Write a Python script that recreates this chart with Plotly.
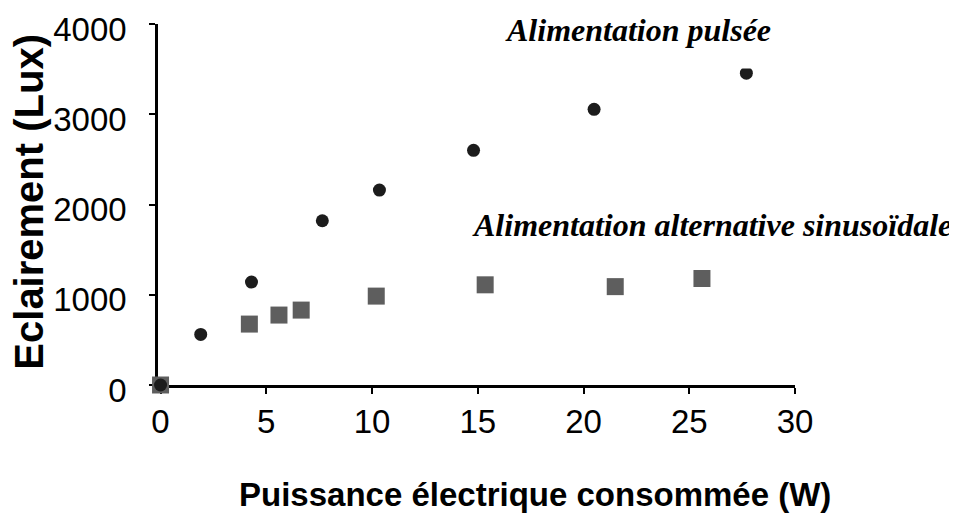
import plotly.graph_objects as go

# Data
pulse_x = [0, 1.9, 4.3, 7.65, 10.35, 14.8, 20.5, 27.7]
pulse_y = [0, 560, 1140, 1820, 2160, 2600, 3055, 3455]

sine_x = [0, 4.2, 5.6, 6.65, 10.2, 15.35, 21.5, 25.6]
sine_y = [0, 675, 775, 830, 985, 1110, 1090, 1180]

x_ticks = [0, 5, 10, 15, 20, 25, 30]
y_ticks = [0, 1000, 2000, 3000, 4000]

label_pulse = "Alimentation pulsée"
label_sine = "Alimentation alternative sinusoïdale"
x_title = "Puissance électrique consommée (W)"
y_title = "Eclairement (Lux)"

fig = go.Figure()
fig.add_trace(go.Scatter(
    x=sine_x, y=sine_y, mode="markers", cliponaxis=False,
    marker=dict(symbol="square", size=17, color="#5e5e5e", line=dict(width=0)),
    name=label_sine, showlegend=False))
fig.add_trace(go.Scatter(
    x=pulse_x, y=pulse_y, mode="markers", cliponaxis=False,
    marker=dict(symbol="circle", size=13, color="#1c1c1c", line=dict(width=0)),
    name=label_pulse, showlegend=False))

axis_font = dict(family="Liberation Sans, Arial, sans-serif", size=33, color="black")

# the page body adds an 8px margin, so the figure is 949x512 and offsets are compensated
fig.update_layout(
    width=949, height=512,
    margin=dict(l=150, r=162, t=16, b=135),
    paper_bgcolor="white", plot_bgcolor="white",
    xaxis=dict(range=[-0.12, 30], tickvals=x_ticks, showgrid=False, zeroline=False,
               showline=True, linecolor="black", linewidth=2.5,
               ticks="outside", ticklen=6, tickwidth=2, tickcolor="black",
               tickfont=axis_font, ticklabelstandoff=0, automargin=False,
               layer="below traces"),
    yaxis=dict(range=[0, 4000], tickvals=y_ticks, showgrid=False, zeroline=False,
               showline=True, linecolor="black", linewidth=2.5,
               ticks="outside", ticklen=6, tickwidth=2, tickcolor="black",
               tickfont=axis_font, ticklabelstandoff=16, ticklabelshift=5,
               ticklabeloverflow="allow", automargin=False, layer="below traces"),
    annotations=[
        dict(text=label_pulse, x=22.58, y=3939, xref="x", yref="y",
             xanchor="center", yanchor="middle", showarrow=False,
             font=dict(family="Liberation Serif, Times New Roman, serif", size=32,
                       color="black", weight="bold", style="italic"),
             bgcolor="white", borderpad=20),
        dict(text=label_sine, x=26.07, y=1773, xref="x", yref="y",
             xanchor="center", yanchor="middle", showarrow=False,
             font=dict(family="Liberation Serif, Times New Roman, serif", size=32,
                       color="black", weight="bold", style="italic"),
             bgcolor="white", borderpad=8),
        dict(text=y_title, x=-0.203, y=0.507, xref="paper", yref="paper",
             xanchor="center", yanchor="middle", textangle=-90, showarrow=False,
             font=dict(family="Liberation Sans, Arial, sans-serif", size=40,
                       color="black", weight="bold")),
        dict(text=x_title, x=0.592, y=-0.302, xref="paper", yref="paper",
             xanchor="center", yanchor="middle", showarrow=False,
             font=dict(family="Liberation Sans, Arial, sans-serif", size=33,
                       color="black", weight="bold")),
    ],
)

fig.write_html("out.html")
